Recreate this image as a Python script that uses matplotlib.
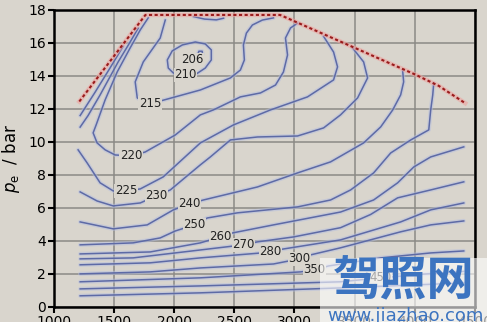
import matplotlib
matplotlib.use('Agg')
import matplotlib.pyplot as plt
from matplotlib.patches import Rectangle

bg = '#d9d5cd'
line_col = '#5d6aa6'
halo_col = '#b3bde0'

# full load line (rpm, bar)
wot_rpm = [1210, 1760, 2880, 4000, 4200, 4420]
wot_bar = [12.45, 17.7, 17.7, 14.1, 13.4, 12.35]

# bsfc iso-lines, g/kWh (rpm, bar)
c206_rpm = [2195, 2212, 2235, 2232, 2205, 2195]
c206_bar = [15.3, 15.2, 15.32, 15.5, 15.5, 15.3]

c210_rpm = [2092, 2183, 2258, 2308, 2308, 2258, 2175, 2067, 1983, 1942, 1950, 1992, 2092]
c210_bar = [14.06, 14.12, 14.48, 14.97, 15.58, 15.94, 16.06, 15.88, 15.52, 14.97, 14.48, 14.18, 14.06]

c210b_rpm = [2160, 2250, 2350, 2410]
c210b_bar = [17.6, 17.45, 17.4, 17.5]

c215_rpm = [1925, 1883, 1742, 1675, 1692, 1750, 1800, 1883, 2217, 2467, 2550, 2583, 2575, 2600, 2650, 2733, 2825]
c215_bar = [17.39, 16.3, 14.85, 13.64, 12.67, 12.4, 12.36, 12.48, 13.15, 13.88, 14.36, 14.97, 15.88, 16.6, 17.09, 17.39, 17.52]

c220_rpm = [1783, 1717, 1633, 1525, 1425, 1350, 1325, 1358, 1425, 1508, 1642, 1758, 2008, 2217, 2325,
            2550, 2717, 2842, 2908, 2942, 2925, 2967, 3025]
c220_bar = [17.52, 16.79, 15.7, 14.24, 12.55, 11.03, 10.55, 9.94, 9.52, 9.21, 9.15, 9.39, 10.42, 11.64, 11.94,
            12.73, 12.97, 13.45, 14.24, 15.27, 16.3, 16.91, 17.2]

ca_rpm = [1217, 1283, 1383, 1533, 1633, 1700]
ca_bar = [10.9, 11.6, 12.85, 14.85, 16.06, 16.9]

cb_rpm = [1217, 1340, 1467, 1575]
cb_bar = [11.6, 13.0, 14.5, 15.8]

c225_rpm = [1200, 1275, 1383, 1492, 1600, 1717, 1908, 2217, 2492, 2800, 3108, 3325, 3358, 3325, 3242]
c225_bar = [9.52, 8.73, 7.52, 7.03, 7.03, 7.15, 7.88, 9.94, 11.03, 11.94, 12.73, 13.76, 14.55, 15.45, 16.4]

c230_rpm = [1217, 1358, 1492, 1717, 1850, 1967, 2217, 2300, 2467, 2692, 3025, 3242, 3383, 3525, 3608, 3575, 3483]
c230_bar = [6.97, 6.42, 6.12, 6.3, 6.73, 7.09, 8.61, 9.09, 10.12, 10.3, 10.36, 10.85, 11.64, 12.67, 13.88, 14.85, 15.7]

c240_rpm = [1217, 1492, 1775, 1992, 2125, 2242, 2692, 3025, 3300, 3575, 3717, 3817, 3883, 3908, 3900]
c240_bar = [5.15, 4.73, 4.97, 5.88, 6.24, 6.48, 7.27, 8.12, 8.79, 9.94, 10.91, 11.94, 12.85, 13.64, 14.3]

c250_rpm = [1217, 1658, 1883, 2008, 2167, 2275, 2525, 3025, 3300, 3467, 3658, 3800, 3967, 4117, 4133, 4150, 4158]
c250_bar = [3.76, 3.88, 4.18, 4.6, 4.97, 5.39, 5.7, 6.06, 6.48, 7.09, 8.12, 9.33, 10.12, 10.73, 11.94, 12.85, 13.55]

c260_rpm = [1217, 1800, 2217, 2383, 2483, 2825, 3383, 3658, 3858, 3992, 4133, 4408]
c260_bar = [3.21, 3.33, 3.88, 4.24, 4.48, 4.97, 5.75, 6.48, 7.52, 8.48, 9.09, 9.7]

c270_rpm = [1217, 1658, 2217, 2575, 2692, 2992, 3383, 3633, 3858, 4133, 4408]
c270_bar = [2.91, 2.97, 3.45, 3.76, 3.94, 4.24, 4.8, 5.6, 6.61, 7.09, 7.58]

c280_rpm = [1217, 1800, 2217, 2692, 2800, 2900, 3383, 3883, 4133, 4408]
c280_bar = [2.55, 2.67, 2.97, 3.25, 3.33, 3.5, 4.06, 5.15, 5.88, 6.3]

c300_rpm = [1217, 1800, 2217, 2825, 3042, 3133, 3383, 3883, 4133, 4408]
c300_bar = [2.0, 2.12, 2.36, 2.6, 2.91, 3.15, 3.58, 4.55, 4.97, 5.21]

c350_rpm = [1217, 2217, 3050, 3167, 3283, 3717, 4133, 4408]
c350_bar = [1.52, 1.76, 2.12, 2.24, 2.48, 2.97, 3.27, 3.39]

c450_rpm = [1217, 2217, 3383, 3717, 4100, 4408]
c450_bar = [1.09, 1.27, 1.52, 1.76, 2.0, 2.15]

cc_rpm = [1217, 2217, 3383, 4408]
cc_bar = [0.67, 0.85, 1.15, 1.45]

# label text and where it sits
lab_text = ['206', '210', '215', '220', '225', '230', '240', '250', '260', '270', '280', '300', '350', '450']
lab_rpm = [2150, 2092, 1800, 1642, 1600, 1850, 2125, 2167, 2383, 2575, 2800, 3042, 3167, 3717]
lab_bar = [14.97, 14.06, 12.36, 9.15, 7.03, 6.73, 6.24, 4.97, 4.24, 3.76, 3.33, 2.91, 2.24, 1.76]

lines = [(c206_rpm, c206_bar), (c210_rpm, c210_bar), (c210b_rpm, c210b_bar), (c215_rpm, c215_bar),
         (c220_rpm, c220_bar), (ca_rpm, ca_bar), (cb_rpm, cb_bar), (c225_rpm, c225_bar),
         (c230_rpm, c230_bar), (c240_rpm, c240_bar), (c250_rpm, c250_bar), (c260_rpm, c260_bar),
         (c270_rpm, c270_bar), (c280_rpm, c280_bar), (c300_rpm, c300_bar), (c350_rpm, c350_bar),
         (c450_rpm, c450_bar), (cc_rpm, cc_bar)]

fig = plt.figure(figsize=(4.87, 3.22), dpi=100, facecolor=bg)
ax = fig.add_axes([0.111, 0.047, 0.864, 0.922], facecolor=bg)

for r, b in lines:
    ax.plot(r, b, color=halo_col, lw=3.0, alpha=0.5, solid_capstyle='round', solid_joinstyle='round', zorder=2)
for r, b in lines:
    ax.plot(r, b, color=line_col, lw=1.1, solid_joinstyle='round', zorder=3)

for t, r, b in zip(lab_text, lab_rpm, lab_bar):
    ax.text(r, b, t, fontsize=8.5, color='#222222', ha='center', va='center', zorder=4,
            bbox=dict(boxstyle='square,pad=0.05', fc=bg, ec='none'))

ax.plot(wot_rpm, wot_bar, color='#eea4a0', lw=3.2, alpha=0.6, zorder=5)
ax.plot(wot_rpm, wot_bar, color='#9a1c1c', lw=1.5, linestyle=(0, (1.5, 1.2)), zorder=6)

ax.set_xlim(1000, 4500)
ax.set_ylim(0, 18)
ax.set_xticks(range(1000, 4501, 500))
ax.set_yticks(range(0, 19, 2))
ax.grid(True, color='#8c8a86', lw=1.1)
ax.set_axisbelow(True)
for s in ax.spines.values():
    s.set_color('black')
    s.set_linewidth(1.8)
ax.tick_params(labelsize=10, length=4, width=1.5, direction='out', pad=2)
ax.set_ylabel('$p_\\mathrm{e}$  / bar', fontsize=12, labelpad=4)

# watermark
fig.add_artist(Rectangle((320 / 487, 0), 167 / 487, 64 / 322, transform=fig.transFigure,
                         facecolor='white', alpha=0.6, edgecolor='none', zorder=10))
fig.text(404 / 487, 1 - 281 / 322, '驾照网', family=['Noto Sans CJK SC', 'DejaVu Sans'],
         fontsize=34, weight='bold', color='#3c74c0', ha='center', va='center', zorder=11)
fig.text(405 / 487, 1 - 316 / 322, 'www.jiazhao.com', fontsize=13, color='#3c74c0',
         ha='center', va='center', zorder=11)

plt.savefig('out.png', dpi=100, facecolor=bg)
